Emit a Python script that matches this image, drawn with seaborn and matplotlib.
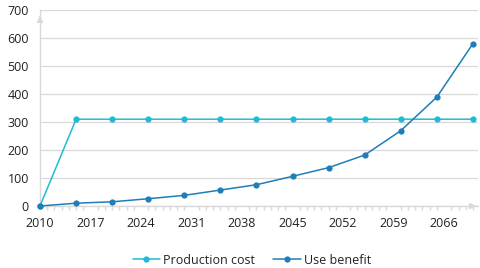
import matplotlib
matplotlib.use("Agg")
import matplotlib.pyplot as plt
import seaborn as sns
import pandas as pd
import numpy as np
from matplotlib.ticker import MultipleLocator

years = [2010, 2015, 2020, 2025, 2030, 2035, 2040, 2045, 2050, 2055, 2060, 2065, 2070]
production_cost = [0, 310, 310, 310, 310, 310, 310, 310, 310, 310, 310, 310, 310]
use_benefit = [0, 10, 15, 26, 38, 57, 76, 106, 137, 182, 269, 389, 580]
xtick_labels = [2010, 2017, 2024, 2031, 2038, 2045, 2052, 2059, 2066]
yticks = [0, 100, 200, 300, 400, 500, 600, 700]

sns.set_theme(style="white")
plt.rcParams['font.family'] = ['Open Sans', 'DejaVu Sans']

df = pd.DataFrame({
    "year": years * 2,
    "value": production_cost + use_benefit,
    "series": ["Production cost"] * len(years) + ["Use benefit"] * len(years),
})

fig = plt.figure(figsize=(4.8, 2.68), dpi=100)
ax = fig.add_axes([40/480, 1-206/268, (478-40)/480, (206-10)/268])

palette = {"Production cost": "#1DBCD4", "Use benefit": "#1F7EB8"}
sns.lineplot(data=df, x="year", y="value", hue="series", palette=palette,
             marker="o", markersize=4.5, markeredgewidth=0, linewidth=1.1,
             ax=ax, zorder=3, clip_on=False)

ax.set_xlim(2010, 2070.7)
ax.set_ylim(0, 700)
ax.set_yticks(yticks)
ax.set_xticks(xtick_labels)
ax.xaxis.set_minor_locator(MultipleLocator(1))
ax.grid(axis="y", color="#d9d9d9", linewidth=0.9, zorder=0)
ax.set_xlabel("")
ax.set_ylabel("")
for s in ["top", "right"]:
    ax.spines[s].set_visible(False)
for s in ["left", "bottom"]:
    ax.spines[s].set_color("#d9d9d9")
    ax.spines[s].set_linewidth(1.0)
ax.tick_params(axis="y", length=0, labelsize=9, colors="#222222", pad=8)
ax.tick_params(axis="x", which="major", length=3, color="#d9d9d9", labelsize=9, labelcolor="#222222", pad=5)
ax.tick_params(axis="x", which="minor", length=3, color="#d9d9d9", bottom=True)

# axis arrows
ax.annotate("", xy=(1.002, 0), xytext=(0.98, 0), xycoords="axes fraction",
            arrowprops=dict(arrowstyle="-|>", color="#d9d9d9", lw=1, mutation_scale=9),
            annotation_clip=False)
ax.annotate("", xy=(0, 0.985), xytext=(0, 0.95), xycoords="axes fraction",
            arrowprops=dict(arrowstyle="-|>", color="#d9d9d9", lw=1, mutation_scale=9),
            annotation_clip=False)

handles, labels = ax.get_legend_handles_labels()
ax.get_legend().remove()
leg = fig.legend(handles, labels, loc="center", bbox_to_anchor=(252/480, 1-260/268), ncol=2,
                 frameon=False, fontsize=9, handlelength=2.2, columnspacing=1.45,
                 handletextpad=0.25, borderaxespad=0, borderpad=0)
for t in leg.get_texts():
    t.set_color("#222222")

fig.savefig("out.png", dpi=100)
